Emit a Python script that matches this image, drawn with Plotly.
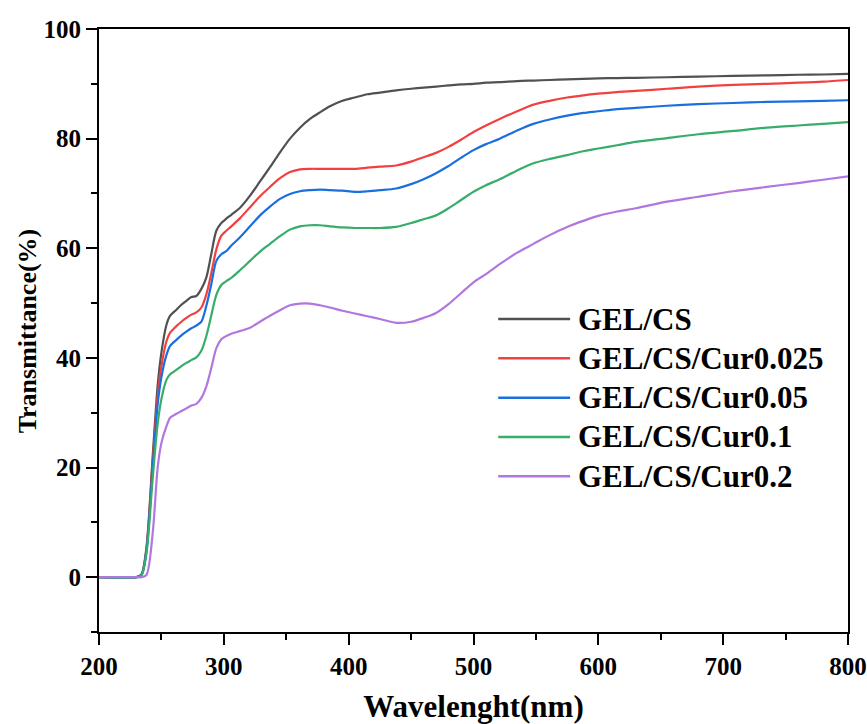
import plotly.graph_objects as go

wavelength = [200, 230, 234, 238, 243, 247, 250, 254, 257, 262, 266, 270, 274, 278, 282, 286, 290, 294,
              298, 302, 306, 313, 321, 329, 337, 345, 353, 361, 369, 377, 385, 395, 405, 415, 425, 438,
              450, 460, 470, 480, 490, 500, 510, 521, 535, 548, 561, 575, 588, 600, 615, 630, 655, 680,
              708, 735, 760, 780, 800]

gel_cs = [0, 0, 0.5, 5.4, 22, 35, 41, 46, 47.7, 48.8, 49.7, 50.4, 51.1, 51.3, 52.6, 54.7, 59, 63.2,
          64.6, 65.4, 66.1, 67.4, 69.6, 72.2, 74.8, 77.5, 80, 82, 83.6, 84.8, 85.9, 86.9, 87.5, 88.1, 88.4, 88.8,
          89.1, 89.3, 89.5, 89.7, 89.9, 90.0, 90.2, 90.3, 90.5, 90.6, 90.7, 90.8, 90.9, 91.0, 91.05, 91.1, 91.2, 91.3,
          91.45, 91.55, 91.65, 91.7, 91.8]

cur_0025 = [0, 0, 0.4, 5, 21, 33, 38.5, 43, 44.6, 45.8, 46.6, 47.3, 47.9, 48.3, 49.2, 51.6, 55.5, 59.8,
            62.3, 63.2, 64, 65.5, 67.5, 69.5, 71.2, 72.8, 73.9, 74.4, 74.5, 74.5, 74.5, 74.5, 74.5, 74.7, 74.9, 75.1,
            75.8, 76.6, 77.4, 78.5, 79.8, 81.2, 82.4, 83.6, 85.0, 86.2, 86.9, 87.5, 87.9, 88.2, 88.5, 88.7, 89.1, 89.5,
            89.8, 90.0, 90.2, 90.4, 90.7]

cur_005 = [0, 0, 0.4, 4.8, 20, 31.5, 36.5, 40.5, 42.2, 43.3, 44.1, 44.8, 45.4, 45.9, 46.6, 49.5, 53.5, 57.7,
           58.9, 59.5, 60.5, 62, 64, 66, 67.6, 69.0, 69.9, 70.4, 70.6, 70.7, 70.6, 70.5, 70.3, 70.4, 70.6, 70.9,
           71.7, 72.6, 73.7, 75, 76.5, 77.9, 79, 80, 81.5, 82.7, 83.5, 84.2, 84.7, 85.0, 85.4, 85.6, 86.0, 86.3,
           86.5, 86.7, 86.8, 86.9, 87.0]

cur_01 = [0, 0, 0.3, 4.3, 18, 28, 32.5, 36, 37, 37.8, 38.5, 39.1, 39.6, 40.1, 41.3, 44, 47.8, 51.5,
          53.3, 54.0, 54.6, 56, 57.7, 59.4, 60.8, 62.2, 63.4, 64, 64.2, 64.2, 64.0, 63.8, 63.7, 63.7, 63.7, 63.9,
          64.6, 65.3, 66, 67.3, 68.8, 70.3, 71.5, 72.6, 74.2, 75.5, 76.3, 77, 77.7, 78.2, 78.8, 79.4, 80.1, 80.8,
          81.4, 82, 82.4, 82.7, 83.0]

cur_02 = [0, 0, 0, 0.4, 8, 20, 24.5, 27.5, 29.1, 29.8, 30.3, 30.8, 31.3, 31.6, 32.7, 34.8, 38.2, 41.8,
          43.4, 44, 44.4, 44.9, 45.5, 46.6, 47.7, 48.7, 49.6, 49.9, 49.9, 49.6, 49.2, 48.6, 48.1, 47.6, 47.1, 46.4,
          46.6, 47.3, 48.2, 49.8, 51.8, 53.8, 55.3, 57.1, 59.2, 60.8, 62.4, 63.9, 65, 65.9, 66.7, 67.3, 68.5, 69.4,
          70.4, 71.2, 71.9, 72.5, 73.1]

series_names = ["GEL/CS", "GEL/CS/Cur0.025", "GEL/CS/Cur0.05", "GEL/CS/Cur0.1", "GEL/CS/Cur0.2"]
series_values = [gel_cs, cur_0025, cur_005, cur_01, cur_02]
colors = ["#515151", "#F14040", "#1A6FDF", "#37AD6B", "#B177DE"]

x_ticks = [200, 300, 400, 500, 600, 700, 800]
y_ticks = [0, 20, 40, 60, 80, 100]

FONT = "Liberation Serif"

fig = go.Figure()
for name, vals, col in zip(series_names, series_values, colors):
    fig.add_trace(go.Scatter(x=wavelength, y=vals, mode="lines", name=name,
                             line=dict(color=col, width=2.2, shape="spline", smoothing=0.8),
                             showlegend=False))

# manual legend (long line samples like the original)
leg_x0, leg_x1, leg_tx = 0.533, 0.629, 0.637
leg_y0, leg_dy = 0.519, 0.0652
for i, (name, col) in enumerate(zip(series_names, colors)):
    yy = leg_y0 - i * leg_dy
    fig.add_shape(type="line", xref="paper", yref="paper", x0=leg_x0, x1=leg_x1, y0=yy, y1=yy,
                  line=dict(color=col, width=2.5))
    fig.add_annotation(xref="paper", yref="paper", x=leg_tx, y=yy, text=name, showarrow=False,
                       xanchor="left", yanchor="middle",
                       font=dict(family=FONT, size=31, color="black", weight="bold"))

# y-axis title as rotated annotation for exact placement
fig.add_annotation(xref="paper", yref="paper", x=-0.095, y=0.5, text="Transmittance(%)", showarrow=False,
                   textangle=-90, xanchor="center", yanchor="middle",
                   font=dict(family=FONT, size=26, color="black", weight="bold"))

axis_common = dict(showline=True, linecolor="black", linewidth=2, mirror=True,
                   ticks="outside", ticklen=11, tickwidth=2, tickcolor="black",
                   showgrid=False, zeroline=False, automargin=False,
                   tickfont=dict(family=FONT, size=25, color="black", weight="bold"))

fig.update_xaxes(range=[200, 800], tickvals=x_ticks,
                 minor=dict(dtick=50, ticks="outside", ticklen=6, tickwidth=2, tickcolor="black", showgrid=False),
                 title=dict(text="Wavelenght(nm)", standoff=24,
                            font=dict(family=FONT, size=31, color="black", weight="bold")),
                 **axis_common)
fig.update_yaxes(range=[-10, 100], tickvals=y_ticks,
                 minor=dict(dtick=10, tick0=0, ticks="outside", ticklen=6, tickwidth=2, tickcolor="black", showgrid=False),
                 **axis_common)

fig.update_layout(width=867, height=724, margin=dict(l=99, r=19, t=29, b=92),
                  plot_bgcolor="white", paper_bgcolor="white")

fig.write_html("out.html")
